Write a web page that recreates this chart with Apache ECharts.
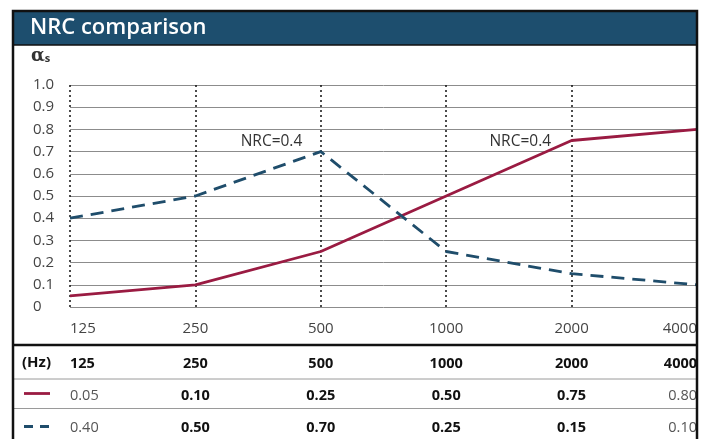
<!DOCTYPE html>
<html>
<head>
<meta charset="utf-8">
<script src="https://cdn.jsdelivr.net/npm/echarts@6/dist/echarts.min.js"></script>
<style>
  html, body { margin: 0; padding: 0; background: #fff; }
  #main { width: 705px; height: 439px; }
</style>
</head>
<body>
<div id="main"></div>
<script>
// frequencies (Hz) and absorption coefficients
var freqs = ['125', '250', '500', '1000', '2000', '4000'];
var redValues = [0.05, 0.10, 0.25, 0.50, 0.75, 0.80];
var blueValues = [0.40, 0.50, 0.70, 0.25, 0.15, 0.10];
var redRow = ['0.05', '0.10', '0.25', '0.50', '0.75', '0.80'];
var blueRow = ['0.40', '0.50', '0.70', '0.25', '0.15', '0.10'];
var nrcText = 'NRC=0.4';

var RED = '#9a1b42';
var BLUE = '#1f4d6b';
var FONT = '"Open Sans", "Noto Sans", sans-serif';

var chart = echarts.init(document.getElementById('main'), null, { renderer: 'canvas' });

// NRC note next to one point of a line (markPoint at that data point)
function nrcMark(values, idx, dist, off) {
    return {
        symbol: 'circle', symbolSize: 1, silent: true,
        itemStyle: { color: 'transparent' },
        data: [{
            coord: [freqs[idx], values[idx]],
            label: {
                show: true, formatter: nrcText, position: 'left', distance: dist, offset: off,
                color: '#333', fontSize: 15.5, fontFamily: FONT
            }
        }]
    };
}

// table rows drawn as extra category axes under the plot
function tableAxis(rowData, offset, boldAll) {
    return {
        type: 'category', data: rowData, boundaryGap: false, position: 'bottom', offset: offset,
        axisLine: { show: false }, axisTick: { show: false }, splitLine: { show: false },
        axisLabel: {
            interval: 0, margin: 15, alignMinLabel: 'left', alignMaxLabel: 'right',
            formatter: function (val, idx) {
                if (boldAll || (idx > 0 && idx < rowData.length - 1)) return '{b|' + val + '}';
                return '{n|' + val + '}';
            },
            rich: {
                b: { fontWeight: 'bold', color: '#111', fontSize: 14.5, fontFamily: FONT },
                n: { color: '#555', fontSize: 14.5, fontFamily: FONT }
            }
        }
    };
}

var option = {
    animation: false,
    backgroundColor: '#fff',
    title: [{
        text: 'NRC comparison', left: 30, top: 17, padding: 0,
        textStyle: { color: '#fff', fontSize: 22, fontWeight: 600, fontFamily: FONT }
    }, {
        text: '{a|α}{s|s}', left: 31, top: 47, padding: 0,
        textStyle: {
            rich: {
                a: { fontSize: 18, color: '#333', fontFamily: 'DejaVu Serif' },
                s: { fontSize: 11, fontWeight: 'bold', color: '#333', fontFamily: FONT, padding: [6, 0, 0, 0] }
            }
        }
    }],
    grid: { left: 70, right: 8, top: 85, bottom: 132 },
    xAxis: [{
        type: 'category', data: freqs, boundaryGap: false,
        axisLine: { show: false }, axisTick: { show: false },
        splitLine: { show: true, lineStyle: { type: [2, 3], color: '#111', width: 1.5 } },
        axisLabel: {
            interval: 0, margin: 14, alignMinLabel: 'left', alignMaxLabel: 'right',
            color: '#444', fontSize: 15, fontFamily: FONT
        }
    },
        tableAxis(freqs, 34, true),
        tableAxis(redRow, 66, false),
        tableAxis(blueRow, 98, false)
    ],
    yAxis: {
        type: 'value', min: 0, max: 1, interval: 0.1,
        axisLine: { show: false }, axisTick: { show: false },
        splitLine: { lineStyle: { color: '#8c8c8c', width: 1 } },
        axisLabel: {
            align: 'left', margin: 37, color: '#444', fontSize: 15, fontFamily: FONT,
            padding: [0, 0, 12, 0],
            formatter: function (v) { return v === 0 ? '0' : v.toFixed(1); }
        }
    },
    series: [{
        name: 'red', type: 'line', symbol: 'none', xAxisIndex: 0,
        data: redValues,
        itemStyle: { color: RED },
        lineStyle: { color: RED, width: 2.8 },
        markPoint: nrcMark(redValues, 4, 20, [0, 1])
    }, {
        name: 'blue', type: 'line', symbol: 'none', xAxisIndex: 0,
        data: blueValues,
        itemStyle: { color: BLUE },
        lineStyle: { color: BLUE, width: 2.8, type: [13, 8] },
        markPoint: nrcMark(blueValues, 2, 18, [0, -10])
    }],
    graphic: [
        { type: 'rect', z: 0, shape: { x: 13, y: 11, width: 684, height: 34 },
          style: { fill: '#1d4e6e', stroke: '#111', lineWidth: 1.5 } },
        { type: 'line', z: 10, shape: { x1: 13, y1: 345, x2: 697, y2: 345 },
          style: { stroke: '#111', lineWidth: 2.5 } },
        { type: 'line', z: 10, shape: { x1: 13, y1: 379, x2: 697, y2: 379 },
          style: { stroke: '#9a9a9a', lineWidth: 1 } },
        { type: 'line', z: 10, shape: { x1: 13, y1: 408.5, x2: 697, y2: 408.5 },
          style: { stroke: '#9a9a9a', lineWidth: 1 } },
        { type: 'rect', z: 10, shape: { x: 13, y: 11, width: 684, height: 440 },
          style: { fill: null, stroke: '#111', lineWidth: 2.5 } },
        // table row heads: unit and line keys
        { type: 'text', z: 10, left: 22, top: 355,
          style: { text: '(Hz)', fill: '#111', font: 'bold 15px ' + FONT } },
        { type: 'line', z: 10, shape: { x1: 24, y1: 393.5, x2: 50, y2: 393.5 },
          style: { stroke: RED, lineWidth: 2.8 } },
        { type: 'line', z: 10, shape: { x1: 24, y1: 426.5, x2: 51, y2: 426.5 },
          style: { stroke: BLUE, lineWidth: 2.8, lineDash: [9, 7] } }
    ]
};

chart.setOption(option);
</script>
</body>
</html>
